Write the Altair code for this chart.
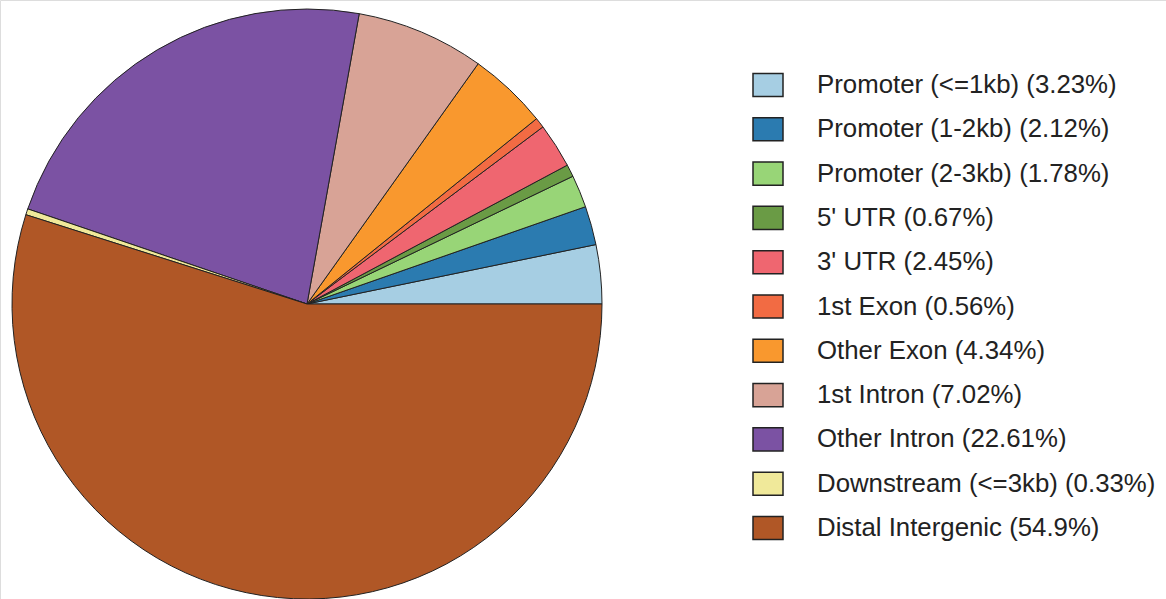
import math
import altair as alt
import pandas as pd

categories = [
    "Promoter (<=1kb)", "Promoter (1-2kb)", "Promoter (2-3kb)", "5' UTR", "3' UTR",
    "1st Exon", "Other Exon", "1st Intron", "Other Intron", "Downstream (<=3kb)",
    "Distal Intergenic",
]
percents = [3.23, 2.12, 1.78, 0.67, 2.45, 0.56, 4.34, 7.02, 22.61, 0.33, 54.9]
colors = [
    "#A6CEE3", "#2B7BB0", "#98D577", "#6A9B45", "#EF6670", "#F26B43",
    "#F9982E", "#D8A396", "#7B52A3", "#F0E99A", "#B05726",
]

labels = [f"{c} ({p}%)" for c, p in zip(categories, percents)]
df = pd.DataFrame({"label": labels, "pct": percents, "idx": list(range(len(labels)))})

pie = alt.Chart(df).mark_arc(
    outerRadius=295, stroke="#222222", strokeWidth=1
).encode(
    theta=alt.Theta("pct:Q", stack=True,
                    scale=alt.Scale(range=[math.pi / 2, math.pi / 2 - 2 * math.pi])),
    order=alt.Order("idx:Q", sort="ascending"),
    color=alt.Color(
        "label:N",
        sort=labels,
        scale=alt.Scale(domain=labels, range=colors),
        legend=alt.Legend(
            title=None,
            orient="none",
            legendX=752,
            legendY=69,
            padding=0,
            symbolType="M-1,-0.77H1V0.77H-1Z",
            symbolSize=900,
            symbolStrokeColor="#222222",
            symbolStrokeWidth=1.5,
            symbolOpacity=1,
            labelFont="Liberation Sans",
            labelFontSize=25.8,
            labelColor="#222222",
            labelOffset=33,
            labelLimit=500,
            rowPadding=13.3,
        ),
    ),
    x=alt.value(307),
    y=alt.value(304),
)

chart = pie.properties(
    width=1166, height=599, padding=0, autosize=alt.AutoSizeParams(type="none")
).configure_view(stroke=None).configure(background="white")

chart.save("out.html", embed_options={"renderer": "svg", "actions": False})
